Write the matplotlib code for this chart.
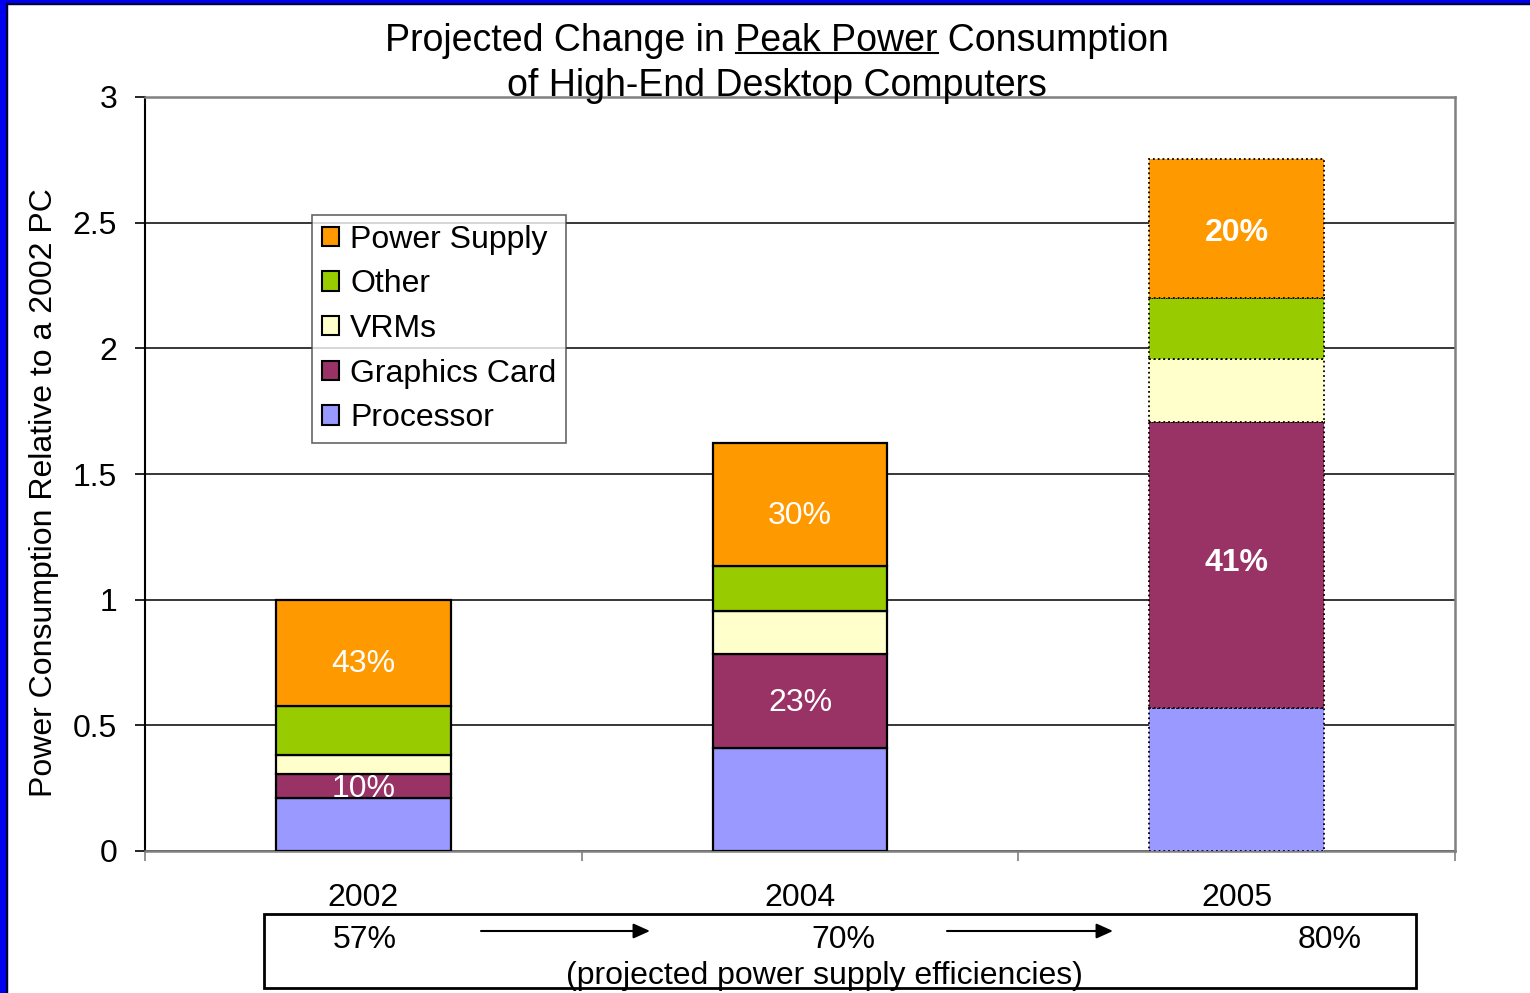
import matplotlib
matplotlib.use("Agg")
import matplotlib.pyplot as plt
import numpy as np
from matplotlib.patches import Rectangle
from matplotlib.lines import Line2D
from matplotlib.transforms import offset_copy

plt.rcParams['font.family'] = ['Liberation Sans', 'DejaVu Sans']

years = ["2002", "2004", "2005"]
series = ["Processor", "Graphics Card", "VRMs", "Other", "Power Supply"]
processor = [0.21, 0.41, 0.57]
graphics = [0.096, 0.374, 1.138]
vrms = [0.076, 0.171, 0.251]
other = [0.195, 0.179, 0.242]
power_supply = [0.423, 0.49, 0.554]
colors = ["#9999FF", "#993366", "#FFFFCC", "#99CC00", "#FF9900"]
ps_labels = ["43%", "30%", "20%"]
gfx_labels = ["10%", "23%", "41%"]
efficiencies = ["57%", "70%", "80%"]

W, H = 1530, 993
fig = plt.figure(figsize=(W / 100, H / 100), dpi=100)
fig.patch.set_facecolor("white")

# slide frame (blue border at left and top)
fig.patches.append(Rectangle((0, 0), 7 / W, 1, transform=fig.transFigure, color="#0000EE", zorder=0))
fig.patches.append(Rectangle((0, 1 - 4 / H), 1, 4 / H, transform=fig.transFigure, color="#0000EE", zorder=0))
fig.lines.append(Line2D([7 / W, 7 / W], [0, 1 - 4 / H], transform=fig.transFigure, color="#000033", lw=1.5))
fig.lines.append(Line2D([7 / W, 1], [1 - 4 / H, 1 - 4 / H], transform=fig.transFigure, color="#000033", lw=1.5))

ax = fig.add_axes([145 / W, 1 - 851 / H, 1310 / W, 754 / H])
x = np.arange(len(years))
data = [processor, graphics, vrms, other, power_supply]
bottom = np.zeros(3)
width = 0.40
for vals, col, name in zip(data, colors, series):
    vals = np.array(vals)
    for i in range(3):
        style = ':' if i == 2 else '-'
        lw = 1.3 if i == 2 else 1.6
        ax.bar(x[i], vals[i], width=width, bottom=bottom[i], color=col,
               edgecolor="black", linewidth=lw, linestyle=style, zorder=3,
               label=name if i == 0 else None)
    bottom = bottom + vals

# data labels (pixel offsets from segment centres, as in the original slide)
ps_bottom = np.array(processor) + np.array(graphics) + np.array(vrms) + np.array(other)
ps_off = [-11, -12, -5]
gfx_off = [-3, -2, 2]
for i in range(3):
    wt = "bold" if i == 2 else "normal"
    tr1 = offset_copy(ax.transData, fig=fig, x=0, y=ps_off[i], units="dots")
    ax.text(x[i], ps_bottom[i] + power_supply[i] / 2, ps_labels[i], transform=tr1,
            ha="center", va="center", color="white", fontsize=23, fontweight=wt, zorder=5)
    tr2 = offset_copy(ax.transData, fig=fig, x=0, y=gfx_off[i], units="dots")
    ax.text(x[i], processor[i] + graphics[i] / 2, gfx_labels[i], transform=tr2,
            ha="center", va="center", color="white", fontsize=23, fontweight=wt, zorder=5)

ax.set_xlim(-0.5, 2.5)
ax.set_ylim(0, 3)
ax.set_yticks([0, 0.5, 1, 1.5, 2, 2.5, 3])
ax.set_yticklabels(["0", "0.5", "1", "1.5", "2", "2.5", "3"])
ax.yaxis.grid(True, color="black", linewidth=1.1, zorder=0)
ax.set_axisbelow(True)
ax.tick_params(axis="y", direction="out", length=7, width=1.2, pad=13, labelsize=23)
ax.set_xticks(x)
ax.set_xticklabels(years)
ax.set_xticks([-0.5, 0.5, 1.5, 2.5], minor=True)
ax.tick_params(axis="x", which="major", length=0, pad=23, labelsize=23)
ax.tick_params(axis="x", which="minor", direction="out", length=7, width=1.2, color="#808080")
for s in ["top", "right", "bottom"]:
    ax.spines[s].set_color("#808080")
    ax.spines[s].set_linewidth(1.8)
ax.spines["left"].set_color("black")
ax.spines["left"].set_linewidth(1.5)
ax.set_ylabel("Power Consumption Relative to a 2002 PC", fontsize=23)
ax.yaxis.set_label_coords(-0.066, 0.475)

# legend
handles, labels = ax.get_legend_handles_labels()
leg = ax.legend(handles[::-1], labels[::-1], loc="upper left", bbox_to_anchor=(0.1275, 0.8435),
                fontsize=23, frameon=True, fancybox=False, handlelength=0.55, handleheight=0.55,
                handletextpad=0.35, labelspacing=0.46, borderpad=0.3, borderaxespad=0)
leg.get_frame().set_edgecolor("#404040")
leg.get_frame().set_linewidth(1.2)
for p in leg.get_patches():
    p.set_linewidth(1.5)
    p.set_linestyle('-')

# title with underline on "Peak Power"
t1 = fig.text(777 / W, 1 - 41 / H, "Projected Change in Peak Power Consumption",
              ha="center", va="center", fontsize=27)
fig.text(777 / W, 1 - 86 / H, "of High-End Desktop Computers", ha="center", va="center", fontsize=27)
fig.canvas.draw()
r = fig.canvas.get_renderer()
bb = t1.get_window_extent(r)
pre = fig.text(0, 0, "Projected Change in ", fontsize=27)
mid = fig.text(0, 0, "Projected Change in Peak Power", fontsize=27)
w_pre = pre.get_window_extent(r).width
w_mid = mid.get_window_extent(r).width
pre.remove(); mid.remove()
uy = 1 - 53 / H
fig.lines.append(Line2D([(bb.x0 + w_pre + 1) / W, (bb.x0 + w_mid) / W], [uy, uy],
                        transform=fig.transFigure, color="black", lw=1.5))

# efficiency box
fig.patches.append(Rectangle((264 / W, 1 - 988 / H), (1416 - 264) / W, (988 - 914) / H,
                             transform=fig.transFigure, fill=False, edgecolor="black", lw=2, zorder=2))
for xp, s in zip([365, 843, 1330], efficiencies):
    fig.text(xp / W, 1 - 940 / H, s, ha="center", va="center", fontsize=23)
for x0, x1 in [(481, 650), (947, 1113)]:
    ax.annotate("", xy=(x1 / W, 1 - 931 / H), xytext=(x0 / W, 1 - 931 / H),
                xycoords="figure fraction", textcoords="figure fraction",
                arrowprops=dict(arrowstyle="-|>,head_length=1.0,head_width=0.45", color="black",
                                lw=1.5, shrinkA=0, shrinkB=0))
fig.text(824 / W, 1 - 976 / H, "(projected power supply efficiencies)", ha="center", va="center", fontsize=23)

fig.savefig("out.png", dpi=100, facecolor="white")
